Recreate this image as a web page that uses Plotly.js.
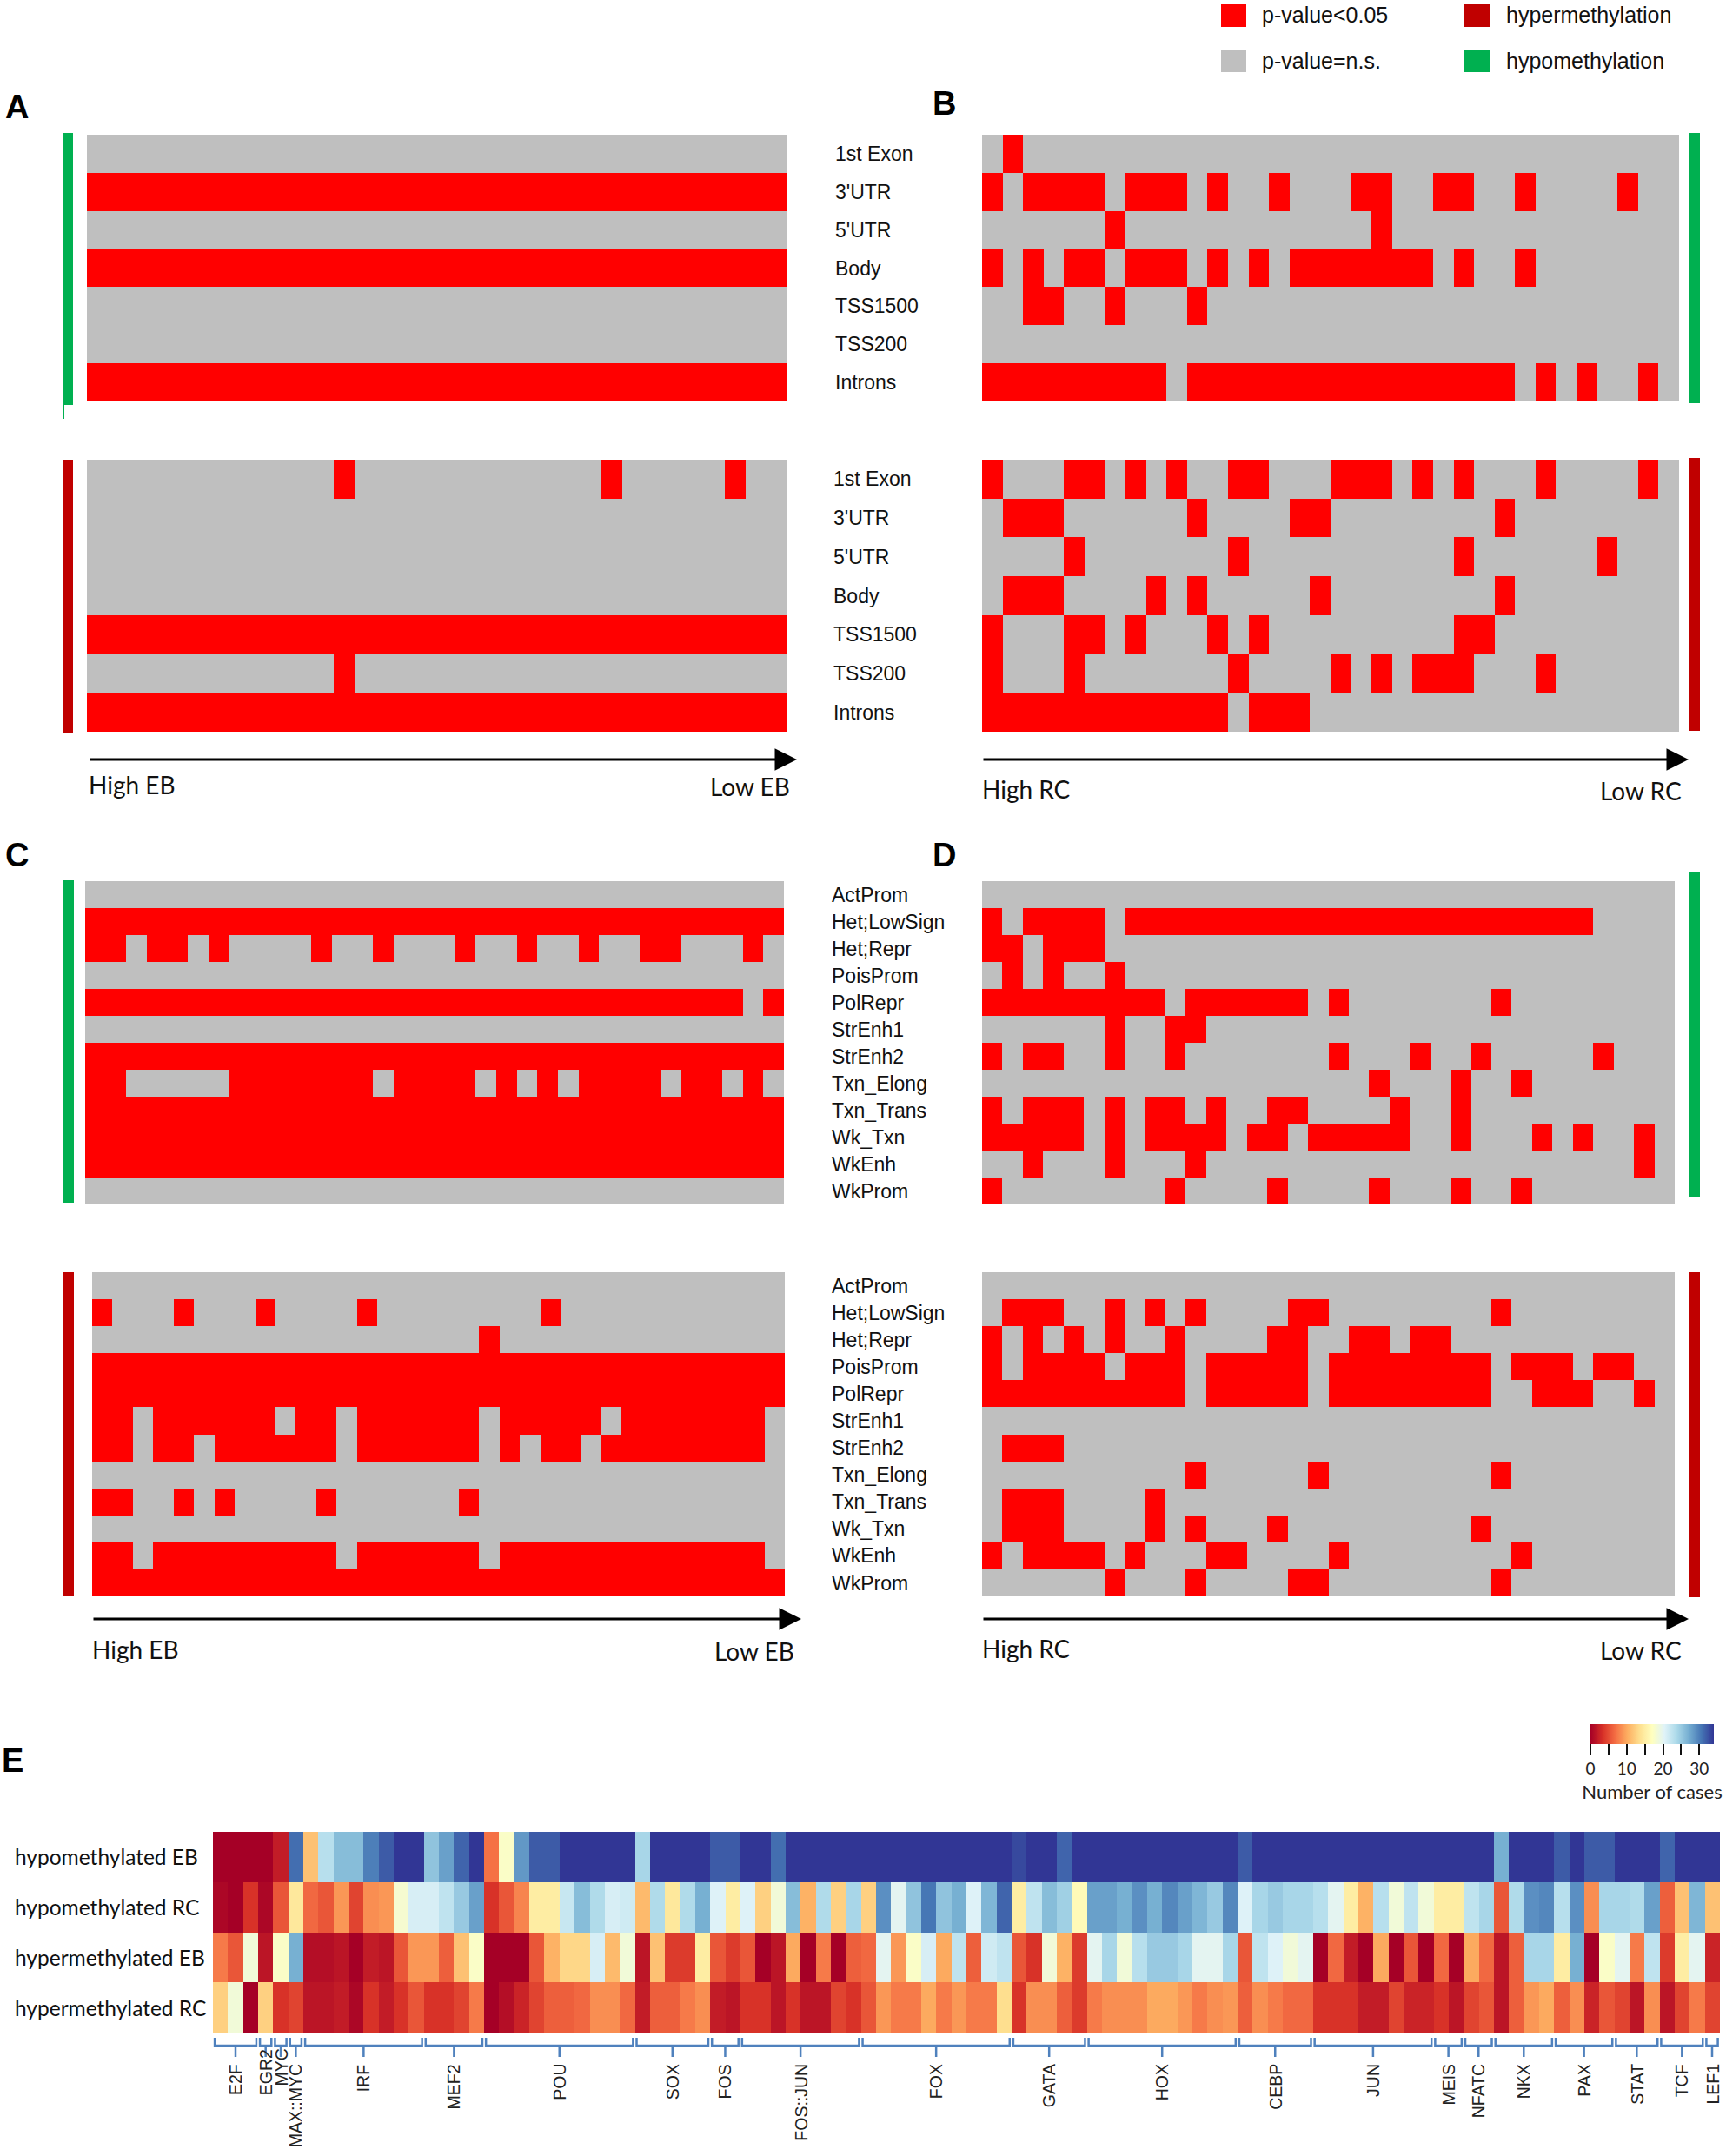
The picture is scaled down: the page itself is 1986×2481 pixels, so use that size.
<!DOCTYPE html>
<html><head><meta charset="utf-8">
<script src="https://cdn.plot.ly/plotly-3.0.1.min.js"></script>
<style>html,body{margin:0;padding:0;background:#fff}#chart{width:1986px;height:2481px}</style>
</head><body><div id="chart"></div>
<script>
// ---------------- DATA ----------------
const regionRows = ['1st Exon', "3'UTR", "5'UTR", 'Body', 'TSS1500', 'TSS200', 'Introns'];
const stateRows = ['ActProm','Het;LowSign','Het;Repr','PoisProm','PolRepr','StrEnh1','StrEnh2','Txn_Elong','Txn_Trans','Wk_Txn','WkEnh','WkProm'];
const nSamples = 34;

// significant (p<0.05) columns per row, ordered from high to low level
const aHypo  = ['', 'all', '', 'all', '', '', 'all'];
const aHyper = ['12,25,31', '', '', '', 'all', '12', 'all'];
const bHypo  = ['1', '0,2-5,7-9,11,14,18-19,22-23,26,31', '6,19', '0,2,4-5,7-9,11,13,15-21,23,26', '2-3,6,10', '', '0-8,10-25,27,29,32'];
const bHyper = ['0,4-5,7,9,12-13,17-19,21,23,27,32', '1-3,10,15-16,25', '4,12,23,30', '1-3,8,10,16,25', '0,4-5,7,11,13,23-24', '0,4,12,17,19,21-23,27', '0-11,13-15'];
const cHypo  = ['', 'all', '0-1,3-4,6,11,14,18,21,24,27-28,32', '', '0-31,33', '', 'all', '0-1,7-13,15-18,20,22,24-27,29-30,32', 'all', 'all', 'all', ''];
const cHyper = ['', '0,4,8,13,22', '19', 'all', 'all', '0-1,3-8,10-11,13-18,20-24,26-32', '0-1,3-4,6-11,13-18,20,22-23,25-32', '', '0-1,4,6,11,18', '', '0-1,3-11,13-18,20-32', 'all'];
const dHypo  = ['', '0,2-5,7-29', '0-1,3-5', '1,3,6', '0-8,10-15,17,25', '6,9-10', '0,2-3,6,9,17,21,24,30', '19,23,26', '0,2-4,6,8-9,11,14-15,20,23', '0-4,6,8-11,13-14,16-20,23,27,29,32', '2,6,10,32', '0,9,14,19,23,26'];
const dHyper = ['', '1-3,6,8,10,15-16,25', '0,2,4,6,9,14-15,18-19,21-22', '0,2-5,7-9,11-15,17-24,26-28,30-31', '0-9,11-15,17-24,27-29,32', '', '1-3', '10,16,25', '1-3,8', '1-3,8,10,14,24', '0,2-5,7,11-12,17,26', '6,10,15-16,25'];

// Panel E: number of cases per motif
const eRows = ['hypomethylated EB', 'hypomethylated RC', 'hypermethylated EB', 'hypermethylated RC'];
const hypoEB = [0,0,0,0,2,31,11.5,23,26,26, 30,32,34,34,25.5,28,31.5,34,7,17.5, 28.5,32,32,34,34,34,34,34,24,34,
  34,34,34,32,32,34,34,31,34,34, 34,34,34,34,34,34,34,34,34,34, 34,34,34,33,34,34,31.5,34,34,34,
  34,34,34,34,34,34,34,34,32,34, 34,34,34,34,34,34,34,34,34,34, 34,34,34,34,34,27,34,34,34,32, 34,32,32,34,34,34,31.5,34,34,34];
const hypoRC = [0.5,0,3.5,0.5,5.5,14.5,6.5,5.5,9,4.5, 8.5,9,18,21,21,22.5,25,28,3.5,5.5, 8,15,15,22,26,23.5,21,21.5,11,23.5,
  14.5,23.5,27,20.5,15,20.5,12.5,18.5,26,10.5, 23.5,12.5,24,12.5,29,20,25.5,30.5,25.5,27, 20.5,26.5,31.5,15,22.5,26,24.5,16.5,28,28,
  27,29,27,29.5,28,26.5,25,29.5,20.5,24, 25,24,24,23,20,15,10.5,23,18.5,22.5, 18.5,15,15,22.5,24,5.5,23.5,29,29.5,23, 29,8.5,24,24,23.5,28,6,11.5,26.5,11.5];
const hyperEB = [7.5,5.5,18.5,1.5,17.5,27,1,1,1.5,0, 2,1.5,5.5,9,9,6,11.5,17.5,0,0, 0,5.5,10.5,13,13,21,11,18.5,1.5,11.5,
  4,4,15,5.5,4,5.5,0,1.5,10,0, 7.5,0,6,6.5,20,9,17.5,21,10,22.5, 6,21.5,22.5,5.5,3.5,18.5,10.5,4,20,24,
  18.5,23,25,25,24,20,20,24,5.5,22.5, 20.5,18.5,20,0,6.5,2,0,10,0,5.5, 0,6.5,0,10,6.5,1.5,6,24,24,15, 27,0,17.5,20,7.5,22.5,4,15,20,2.5];
const hyperRC = [12.5,18.5,0,12.5,3.5,4.5,1.5,1.5,2,0.5, 3.5,2,3.5,5.5,3.5,3.5,4.5,7.5,0,1, 2.5,4.5,6,6,6.5,8.5,8.5,6.5,2,6,
  6,7.5,8.5,2,1.5,3.5,3.5,1.5,3.5,1.5, 1.5,4.5,3.5,5.5,9,7.5,7.5,10,7.5,9, 7.5,7.5,13.5,3.5,8.5,8.5,6,4,7.5,8.5,
  8.5,8.5,10,10,9,7.5,8.5,9,6,8.5, 7.5,6.5,6.5,3.5,3.5,3.5,2,2,4.5,2.5, 2.5,3.5,1.5,4.5,5.5,1.5,6,9,10,6, 8.5,2.5,5.5,4.5,1.5,8.5,1.5,4.5,7.5,4.5];
const tfGroups = ['E2F','EGR2','MYC','MAX::MYC','IRF','MEF2','POU','SOX','FOS','FOS::JUN','FOX','GATA','HOX','CEBP','JUN','MEIS','NFATC','NKX','PAX','STAT','TCF','LEF1'];
const tfGroupSize = [3,1,1,1,8,4,10,5,2,8,10,5,10,5,8,2,2,4,4,3,3,1];
const colorbarTicks = [0,5,10,15,20,25,30];
const colorbarTickText = ['0','','10','','20','','30'];

// ---------------- HELPERS ----------------
const W = 1986, H = 2481;
const FONT = 'Liberation Sans, Arial, sans-serif';
const FONT2 = 'Lato, Liberation Sans, sans-serif';
function xd(a,b){return [a/W, b/W];}
function yd(a,b){return [1-b/H, 1-a/H];}
function px(x){return x/W;}
function py(y){return 1-y/H;}
function sig(spec, n){
  const r = new Array(n).fill(0);
  if(spec==='all'){r.fill(1); return r;}
  if(!spec) return r;
  spec.split(',').forEach(p=>{
    const parts = p.split('-').map(Number);
    const a = parts[0], b = parts.length>1 ? parts[1] : parts[0];
    for(let i=a;i<=b;i++) r[i]=1;
  });
  return r;
}
const colIdx = Array.from({length:nSamples},(_,i)=>i);
const GREY = '#bfbfbf', RED = '#ff0000';
function panel(rows, specs, xa, ya){
  return {type:'heatmap', x: colIdx, y: rows, z: specs.map(s=>sig(s,nSamples)),
    xaxis: xa, yaxis: ya, colorscale:[[0,GREY],[1,RED]], zmin:0, zmax:1,
    showscale:false, hoverinfo:'skip'};
}

const eX = Array.from({length:hypoEB.length},(_,i)=>i);
const rdylbu = [[0,'#a50026'],[0.1,'#d73027'],[0.2,'#f46d43'],[0.3,'#fdae61'],[0.4,'#fee090'],[0.5,'#ffffbf'],
  [0.6,'#e0f3f8'],[0.7,'#abd9e9'],[0.8,'#74add1'],[0.9,'#4575b4'],[1,'#313695']];

const data = [
  panel(regionRows, aHypo, 'x', 'y'),
  panel(regionRows, aHyper, 'x2', 'y2'),
  panel(regionRows, bHypo, 'x3', 'y3'),
  panel(regionRows, bHyper, 'x4', 'y4'),
  panel(stateRows, cHypo, 'x5', 'y5'),
  panel(stateRows, cHyper, 'x6', 'y6'),
  panel(stateRows, dHypo, 'x7', 'y7'),
  panel(stateRows, dHyper, 'x8', 'y8'),
  {type:'heatmap', x:eX, y:eRows, z:[hypoEB, hypoRC, hyperEB, hyperRC], xaxis:'x9', yaxis:'y9',
   colorscale: rdylbu, zmin:0, zmax:34, hoverinfo:'skip',
   colorbar:{orientation:'h', x:px(1901), xanchor:'center', y:py(1984), yanchor:'top',
     len:142, lenmode:'pixels', thickness:23, thicknessmode:'pixels', xpad:0, ypad:0,
     outlinewidth:0, ticks:'outside', ticklen:13, tickwidth:2, tickcolor:'#111',
     tickvals: colorbarTicks, ticktext: colorbarTickText,
     tickfont:{family:FONT2, size:19, color:'#222'},
     title:{text:'Number of cases', side:'bottom', font:{family:FONT2, size:22, color:'#222'}}}}
];

// ---------------- LAYOUT ----------------
function xax(dom){return {domain:dom, showgrid:false, zeroline:false, showticklabels:false, ticks:'', showline:false, fixedrange:true};}
function yax(dom, anchor, labels, standoff){
  const o = {domain:dom, anchor:anchor, autorange:'reversed', showgrid:false, zeroline:false, showline:false, ticks:'', fixedrange:true};
  if(labels){ o.side='right'; o.showticklabels=true; o.ticklabelstandoff=standoff; o.tickfont={family:FONT, size:23, color:'#111'}; }
  else { o.showticklabels=false; }
  return o;
}

const layout = {
  width: W, height: H, margin:{l:0,r:0,t:0,b:0}, paper_bgcolor:'#fff', plot_bgcolor:'#fff',
  font:{family:FONT, color:'#000'}, showlegend:false,
  xaxis: xax(xd(100,905)),   yaxis: yax(yd(155,462),'x', true, 55),
  xaxis2: xax(xd(100,905)),  yaxis2: yax(yd(529,842),'x2', true, 53),
  xaxis3: xax(xd(1130,1932)), yaxis3: yax(yd(155,462),'x3', false),
  xaxis4: xax(xd(1130,1932)), yaxis4: yax(yd(529,842),'x4', false),
  xaxis5: xax(xd(98,902)),   yaxis5: yax(yd(1014,1386),'x5', true, 54),
  xaxis6: xax(xd(106,903)),  yaxis6: yax(yd(1464,1837),'x6', true, 53),
  xaxis7: xax(xd(1130,1927)), yaxis7: yax(yd(1014,1386),'x7', false),
  xaxis8: xax(xd(1130,1927)), yaxis8: yax(yd(1464,1837),'x8', false),
  xaxis9: xax(xd(245,1983)), yaxis9: yax(yd(2108,2339),'x9', false),
  shapes: [], annotations: []
};

// side bars (green = hypomethylation, dark red = hypermethylation)
const GREEN = '#00b050', DARKRED = '#c00000';
[[72,84,153,466,GREEN],[72,84,529,843,DARKRED],[1944,1956,153,464,GREEN],[1944,1956,527,841,DARKRED],
 [73,85,1013,1384,GREEN],[73,85,1464,1837,DARKRED],[1944,1956,1003,1377,GREEN],[1944,1956,1464,1838,DARKRED]]
 .forEach(b=>layout.shapes.push({type:'rect', xref:'paper', yref:'paper', x0:px(b[0]), x1:px(b[1]), y0:py(b[3]), y1:py(b[2]), fillcolor:b[4], line:{width:0}}));
// thin tail under panel A green bar
layout.shapes.push({type:'line', xref:'paper', yref:'paper', x0:px(73), x1:px(73), y0:py(482), y1:py(466), line:{color:GREEN, width:2}});

// legend
[[1405,1434,5,31,RED],[1405,1434,57,83,GREY],[1685,1714,5,31,DARKRED],[1685,1714,57,83,GREEN]]
 .forEach(b=>layout.shapes.push({type:'rect', xref:'paper', yref:'paper', x0:px(b[0]), x1:px(b[1]), y0:py(b[3]), y1:py(b[2]), fillcolor:b[4], line:{width:0}}));
[['p-value<0.05',1450,17],['p-value=n.s.',1450,70],['hypermethylation',1731,17],['hypomethylation',1731,70]]
 .forEach(t=>layout.annotations.push({xref:'paper', yref:'paper', x:px(t[1]), y:py(t[2]), xanchor:'left', yanchor:'middle', showarrow:false, text:t[0], font:{family:FONT, size:25, color:'#111'}}));

// panel letters
[['A',19,123],['B',1086,119],['C',19,984],['D',1086,984],['E',14,2026]]
 .forEach(t=>layout.annotations.push({xref:'paper', yref:'paper', x:px(t[1]), y:py(t[2]), xanchor:'center', yanchor:'middle', showarrow:false, text:'<b>'+t[0]+'</b>', font:{family:FONT, size:38, color:'#000'}}));

// direction arrows with axis captions
[[102,917,874,'High EB','Low EB',903],[1130,1943,874,'High RC','Low RC',908],
 [106,922,1863,'High EB','Low EB',1898],[1130,1943,1863,'High RC','Low RC',1897]]
 .forEach(a=>{
   layout.annotations.push({xref:'paper', yref:'paper', x:px(a[1]), y:py(a[2]), ax:-(a[1]-a[0]), ay:0, axref:'pixel', ayref:'pixel',
     showarrow:true, arrowhead:2, arrowsize:1.7, arrowwidth:3, arrowcolor:'#000', text:''});
   layout.annotations.push({xref:'paper', yref:'paper', x:px(a[0]-2), y:py(a[5]), xanchor:'left', yanchor:'middle', showarrow:false, text:a[3], font:{family:FONT2, size:28, color:'#111'}});
   layout.annotations.push({xref:'paper', yref:'paper', x:px(a[1]-6), y:py(a[5]+2), xanchor:'right', yanchor:'middle', showarrow:false, text:a[4], font:{family:FONT2, size:28, color:'#111'}});
 });

// panel E row labels
eRows.forEach(r=>layout.annotations.push({xref:'paper', yref:'y9', x:px(15), y:r, xanchor:'left', yanchor:'middle', showarrow:false, text:r, font:{family:FONT2, size:24.5, color:'#111'}}));

// panel E motif family brackets and labels
let start = 0;
const BR = '#4f81bd';
tfGroups.forEach((g,i)=>{
  const end = start + tfGroupSize[i] - 1;
  const x0 = start - 0.5 + 0.12, x1 = end + 0.5 - 0.12, xc = (start+end)/2;
  const yTop = py(2345), yLine = py(2354), yBot = py(2367);
  layout.shapes.push({type:'path', xref:'x9', yref:'paper',
    path:`M ${x0},${yTop} L ${x0},${yLine} L ${x1},${yLine} L ${x1},${yTop} M ${xc},${yLine} L ${xc},${yBot}`,
    line:{color:BR, width:2.5}});
  const top = (g==='EGR2' || g==='MYC') ? 2356 : 2373;
  layout.annotations.push({xref:'x9', yref:'paper', x:xc, y:py(top), xanchor:'center', yanchor:'top', textangle:-90,
    showarrow:false, text:g, font:{family:FONT, size:19.5, color:'#222'}});
  start = end + 1;
});

Plotly.newPlot('chart', data, layout, {staticPlot:true, displayModeBar:false});
</script></body></html>
